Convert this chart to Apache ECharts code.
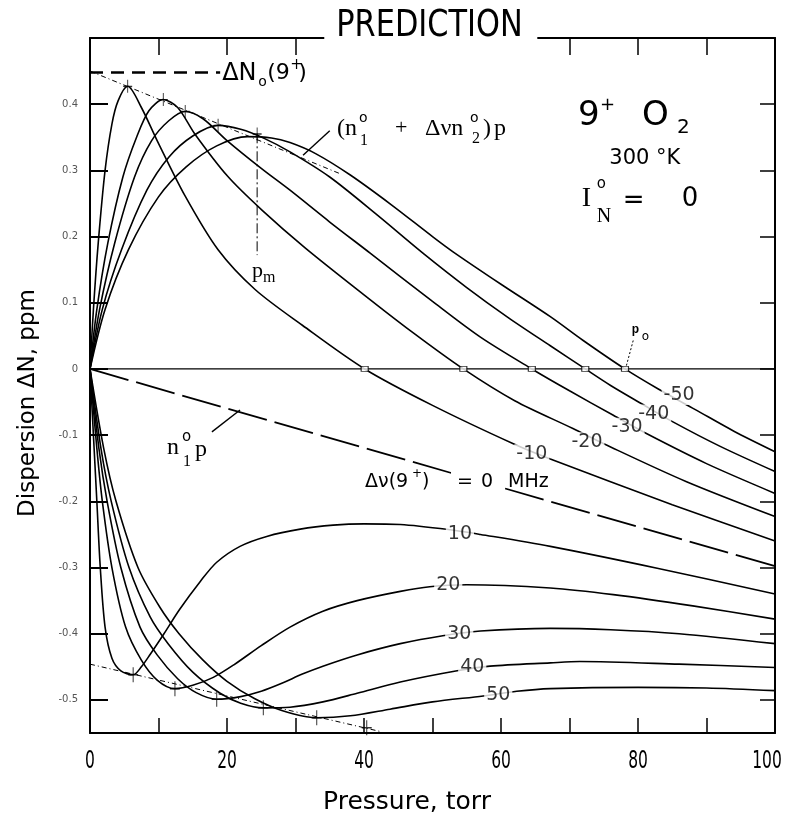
<!DOCTYPE html>
<html>
<head>
<meta charset="utf-8">
<script src="https://cdn.jsdelivr.net/npm/echarts@6/dist/echarts.min.js"></script>
<style>
  html, body { margin: 0; padding: 0; background: #fff; }
  #chart { width: 788px; height: 818px; }
</style>
</head>
<body>
<div id="chart"></div>
<script>
// Axis ticks and labels
const pressureTicks = [0, 10, 20, 30, 40, 50, 60, 70, 80, 90, 100];
const pressureLabels = [0, 20, 40, 60, 80, 100];
const dispersionTicks = [-0.5, -0.4, -0.3, -0.2, -0.1, 0, 0.1, 0.2, 0.3, 0.4];

// Dispersion curves [pressure (torr), ΔN (ppm)] for each detuning Δν(9+) in MHz
const shiftMinus10 = [[0,0],[0.5,0.09],[1.2,0.19],[2.2,0.3],[3.2,0.37],[4.1,0.405],[5.5,0.427],[7.5,0.395],[9.8,0.345],[13.9,0.261],[18.7,0.18],[24.1,0.12],[31,0.066],[40.1,0],[50,-0.055],[61.8,-0.113],[67.2,-0.136],[85,-0.205],[100,-0.26]];
const shiftMinus20 = [[0,0],[1,0.09],[2.6,0.19],[4.8,0.29],[6.8,0.35],[8.6,0.39],[10.7,0.407],[12.8,0.395],[15.3,0.355],[20.1,0.291],[25.1,0.24],[31.4,0.183],[40,0.112],[47,0.056],[54.5,0],[62,-0.048],[70.5,-0.09],[75.4,-0.115],[87,-0.17],[100,-0.223]];
const shiftMinus30 = [[0,0],[1.4,0.09],[3.6,0.19],[6.5,0.29],[9,0.345],[11.5,0.375],[13.9,0.389],[16.5,0.378],[20,0.345],[25,0.303],[29.2,0.27],[35,0.222],[40.9,0.175],[50,0.102],[57,0.048],[64.5,0],[70,-0.033],[76.4,-0.07],[81.3,-0.098],[90,-0.143],[100,-0.188]];
const shiftMinus40 = [[0,0],[1.8,0.09],[4.6,0.18],[8.3,0.27],[11.5,0.32],[15,0.352],[18.7,0.368],[22,0.362],[25.5,0.348],[29.2,0.328],[35,0.29],[42,0.232],[48.6,0.175],[55,0.123],[61,0.078],[67.2,0.035],[72.3,0],[76,-0.025],[80.6,-0.053],[85.1,-0.08],[92,-0.117],[100,-0.155]];
const shiftMinus50 = [[0,0],[2.2,0.09],[5.6,0.18],[10,0.26],[14,0.305],[18.5,0.337],[23,0.351],[26.5,0.349],[29.2,0.342],[33,0.325],[38,0.293],[44,0.248],[50,0.2],[53,0.177],[60,0.128],[67.2,0.079],[72,0.043],[78.1,0],[82.9,-0.03],[88.3,-0.061],[94,-0.094],[100,-0.125]];
const shiftPlus10 = [[0,0],[0.6,-0.12],[1,-0.2],[1.5,-0.3],[2.2,-0.39],[3.2,-0.437],[4.5,-0.456],[6.3,-0.462],[7.5,-0.45],[8.8,-0.431],[10.8,-0.4],[13.1,-0.363],[16.1,-0.321],[18.5,-0.292],[21.9,-0.268],[25.8,-0.253],[30.7,-0.242],[35.5,-0.236],[40,-0.234],[45.3,-0.235],[52.6,-0.243],[57,-0.25],[67.2,-0.268],[82.8,-0.301],[100,-0.34]];
const shiftPlus20 = [[0,0],[1,-0.12],[1.8,-0.2],[3.2,-0.3],[5.2,-0.39],[7.5,-0.44],[9.8,-0.47],[12.4,-0.483],[15,-0.478],[18,-0.466],[21,-0.447],[25,-0.418],[29.2,-0.39],[34,-0.366],[39,-0.35],[45.3,-0.336],[49.6,-0.329],[55,-0.326],[67.2,-0.331],[76.4,-0.341],[88,-0.358],[100,-0.378]];
const shiftPlus30 = [[0,0],[1.3,-0.12],[2.5,-0.2],[4.5,-0.3],[7.3,-0.39],[9.8,-0.432],[12.8,-0.468],[15.5,-0.489],[18.5,-0.499],[22,-0.495],[25,-0.487],[28,-0.475],[31,-0.461],[34,-0.449],[39,-0.432],[45.3,-0.415],[51.5,-0.403],[57,-0.396],[67.2,-0.392],[76,-0.394],[86,-0.4],[100,-0.415]];
const shiftPlus40 = [[0,0],[1.6,-0.12],[3.1,-0.2],[5.7,-0.3],[8.8,-0.375],[11.4,-0.415],[15,-0.458],[19,-0.49],[22,-0.505],[25.3,-0.512],[29.2,-0.511],[34,-0.503],[39,-0.49],[45.3,-0.473],[53.6,-0.456],[58.4,-0.449],[67.2,-0.444],[71.5,-0.442],[86,-0.446],[100,-0.451]];
const shiftPlus50 = [[0,0],[2,-0.12],[3.8,-0.2],[7,-0.3],[10.2,-0.36],[13,-0.4],[16.5,-0.44],[20,-0.472],[24,-0.498],[28,-0.516],[33.1,-0.527],[38,-0.524],[43.8,-0.514],[50,-0.503],[57.4,-0.494],[62.3,-0.487],[67.2,-0.483],[80,-0.481],[90,-0.482],[100,-0.486]];

// Δν = 0: non-resonant term n1° p
const nonResonant = [[0, 0], [100, -0.298]];
const zeroLine = [[0, 0], [100, 0]];
// ΔN0(9+) level and the envelopes through the extrema
const limitLevel = [[0, 0.448], [19, 0.448]];
const upperEnvelope = [[0, 0.45], [36.5, 0.295]];
const lowerEnvelope = [[0, -0.446], [42.5, -0.548]];
const peakPressure = [[24.4, 0.356], [24.4, 0.172]];
const peakMarks = [[5.5, 0.427], [10.7, 0.407], [13.9, 0.389], [18.7, 0.368], [24.4, 0.355]];
const troughMarks = [[6.3, -0.462], [12.4, -0.483], [18.5, -0.499], [25.3, -0.512], [33.1, -0.527], [40.4, -0.542]];
const zeroCrossings = [[40.1, 0], [54.5, 0], [64.5, 0], [72.3, 0], [78.1, 0]];

// Detuning tags written on the curves
const curveTags = [
  [86.0, -0.040, '-50'], [82.3, -0.068, '-40'], [78.4, -0.088, '-30'],
  [72.55, -0.110, '-20'], [64.5, -0.128, '-10'],
  [54.0, -0.250, '10'], [52.3, -0.327, '20'], [53.9, -0.400, '30'],
  [55.8, -0.450, '40'], [59.6, -0.492, '50']
];
// Leader lines for the annotations
const envelopeLeader = [[31.1, 0.323], [35.0, 0.36]];
const nonResonantLeader = [[17.8, -0.095], [21.9, -0.062]];
const crossingLeader = [[79.3, 0.043], [78.2, 0.001]];

const SANS = '"DejaVu Sans", sans-serif';
const SERIF = '"Liberation Serif", "DejaVu Serif", serif';
const INK = '#000';

function curve(data) {
  return {
    type: 'line', data, showSymbol: false, smooth: 0.3,
    lineStyle: { color: INK, width: 1.6 }, z: 3, silent: true
  };
}
function rule(data, type, width) {
  return {
    type: 'line', data, showSymbol: false,
    lineStyle: { color: INK, width, type }, z: 3, silent: true
  };
}
const plusPath = 'path://M-0.1,-1H0.1V-0.1H1V0.1H0.1V1H-0.1V0.1H-1V-0.1H-0.1Z';

const yAxisCommon = {
  type: 'value', min: -0.55, max: 0.5,
  axisLine: { onZero: false, lineStyle: { color: INK, width: 2 } },
  splitLine: { show: false }
};
const xAxisCommon = {
  type: 'value', min: 0, max: 100, interval: 10,
  axisLine: { onZero: false, lineStyle: { color: INK, width: 2 } },
  axisLabel: { show: false },
  splitLine: { show: false }
};

const option = {
  animation: false,
  backgroundColor: '#fff',
  grid: { left: 90, right: 13, top: 38, bottom: 85 },
  xAxis: [
    Object.assign({}, xAxisCommon, { position: 'bottom',
      axisTick: { inside: true, length: 15, lineStyle: { color: INK, width: 1.5 } } }),
    Object.assign({}, xAxisCommon, { position: 'top',
      axisTick: { inside: true, length: 17, lineStyle: { color: INK, width: 1.5 } } })
  ],
  yAxis: [
    Object.assign({}, yAxisCommon, { position: 'left',
      axisTick: { inside: true, length: 18, customValues: dispersionTicks, lineStyle: { color: INK, width: 2 } },
      axisLabel: { customValues: dispersionTicks, fontSize: 10, color: '#555', margin: 12, fontFamily: SANS,
        formatter: v => (Math.abs(v) < 1e-9 ? '0' : v.toFixed(1)) } }),
    Object.assign({}, yAxisCommon, { position: 'right',
      axisTick: { inside: true, length: 15, customValues: dispersionTicks, lineStyle: { color: INK, width: 1.5 } },
      axisLabel: { show: false } })
  ],
  series: [
    curve(shiftMinus10), curve(shiftMinus20), curve(shiftMinus30), curve(shiftMinus40), curve(shiftMinus50),
    curve(shiftPlus10), curve(shiftPlus20), curve(shiftPlus30), curve(shiftPlus40), curve(shiftPlus50),
    rule(nonResonant, [40, 8], 1.8),
    rule(zeroLine, 'solid', 1.2),
    rule(limitLevel, [13, 8], 2.5),
    rule(upperEnvelope, [5, 3, 1, 3], 1),
    rule(lowerEnvelope, [5, 3, 1, 3], 1),
    rule(peakPressure, [10, 3, 2, 3], 1),
    rule(envelopeLeader, 'solid', 1.4),
    rule(nonResonantLeader, 'solid', 1.4),
    rule(crossingLeader, [2, 2], 1),
    { type: 'scatter', data: peakMarks, symbol: plusPath, symbolSize: [9, 13],
      itemStyle: { color: INK }, z: 4, silent: true },
    { type: 'scatter', data: troughMarks, symbol: plusPath, symbolSize: [10, 15],
      itemStyle: { color: INK }, z: 4, silent: true },
    { type: 'scatter', data: zeroCrossings, symbol: 'rect', symbolSize: [7, 5],
      itemStyle: { color: '#fff', borderColor: INK, borderWidth: 1 }, z: 4, silent: true },
    { type: 'scatter', data: curveTags, symbolSize: 0, z: 10, silent: true,
      label: { show: true, position: 'inside', formatter: p => p.value[2],
        fontFamily: SANS, fontSize: 19, color: INK, textBorderWidth: 0,
        backgroundColor: '#fff', padding: [0, 2] } }
  ]
};

const chart = echarts.init(document.getElementById('chart'));
chart.setOption(option);

// Text annotations anchored to data positions
const at = (p, v) => chart.convertToPixel({ xAxisIndex: 0, yAxisIndex: 0 }, [p, v]);
function txt(x, y, text, size, family, extra, styleExtra) {
  return Object.assign({
    type: 'text', x, y, z: 100, silent: true,
    style: Object.assign({ text, font: size + 'px ' + family, fill: INK,
      textAlign: 'left', align: 'left', textVerticalAlign: 'middle', verticalAlign: 'middle' }, styleExtra || {})
  }, extra || {});
}
function group(p, v, pieces) {
  const [x0, y0] = at(p, v);
  return pieces.map(([dx, dy, t, size, fam, extra, st]) => txt(x0 + dx, y0 + dy, t, size, fam, extra, st));
}
const centred = { textAlign: 'center', align: 'center' };

const g = [];
// title sitting in a gap of the top frame
const [gapL] = at(34.2, 0.5);
const [gapR] = at(65.3, 0.5);
g.push({ type: 'rect', z: 90, silent: true, shape: { x: gapL, y: 0, width: gapR - gapL, height: 56 }, style: { fill: '#fff' } });
g.push(txt(gapL + 12, 26, 'PREDICTION', 38, SANS, { scaleX: 0.8 }));

// pressure tick labels (the last one is pulled inside the frame)
const [frameRight] = at(100, -0.55);
pressureLabels.forEach(p => {
  const [x] = at(p, -0.55);
  g.push(txt(Math.min(x, frameRight - 8), 761, String(p), 25, SANS, { scaleX: 0.62 }, centred));
});
// axis titles
g.push(txt(407, 802, 'Pressure, torr', 25, SANS, null, centred));
g.push(txt(28, 403, 'Dispersion ΔN, ppm', 23, SANS, { rotation: Math.PI / 2 }, centred));

g.push(...group(19.3, 0.446, [
  [0, 0, 'ΔN', 24, SANS], [36, 9, 'o', 14, SANS], [45, 0, '(9', 22, SANS],
  [68, -9, '+', 15, SANS], [76, 0, ')', 22, SANS]
]));
g.push(...group(36.07, 0.363, [
  [0, 0, '(n', 24, SERIF], [22, -10, 'o', 14, SANS], [23, 12, '1', 16, SERIF],
  [58, 0, '+', 22, SERIF], [88, 0, 'Δνn', 24, SERIF], [133, -10, 'o', 14, SANS],
  [135, 10, '2', 16, SERIF], [146, 0, ')', 24, SERIF], [157, 0, 'p', 24, SERIF]
]));
g.push(...group(71.24, 0.3815, [
  [0, 0, '9', 34, SANS], [22, -11, '+', 18, SANS], [64, 0, 'O', 34, SANS], [99, 11, '2', 20, SANS]
]));
g.push(...group(81.0, 0.318, [[0, 0, '300 °K', 21, SANS, null, centred]]));
g.push(...group(71.8, 0.2567, [
  [0, 0, 'I', 28, SERIF], [15, -15, 'o', 15, SANS], [15, 18, 'N', 20, SERIF],
  [41, 2, '=', 26, SANS], [100, 0, '0', 26, SANS]
]));
g.push(...group(23.65, 0.148, [[0, 0, 'p', 22, SERIF], [11, 7, 'm', 16, SERIF]]));
g.push(...group(79.1, 0.0597, [[0, 0, 'p', 20, SERIF, null, { fontWeight: 'bold' }], [10, 7, 'o', 12, SANS]]));
g.push(...group(11.24, -0.119, [
  [0, 0, 'n', 24, SERIF], [15, -11, 'o', 15, SANS], [16, 14, '1', 16, SERIF], [28, 2, 'p', 24, SERIF]
]));
const whiteBg = { backgroundColor: '#fff', padding: [3, 6] };
g.push(...group(40.15, -0.1705, [
  [0, 0, 'Δν(9', 19, SANS], [47, -8, '+', 12, SANS], [57, 0, ')', 19, SANS],
  [86, 0, '=', 19, SANS, null, whiteBg], [110, 0, '0', 19, SANS, null, whiteBg], [143, 0, 'MHz', 19, SANS]
]));

chart.setOption({ graphic: { elements: g } });
</script>
</body>
</html>
